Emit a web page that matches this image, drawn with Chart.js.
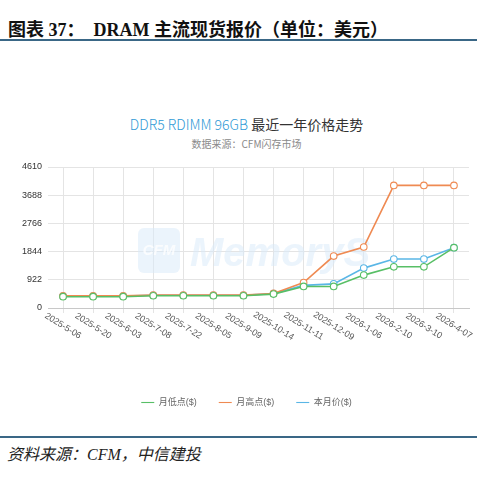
<!DOCTYPE html>
<html>
<head>
<meta charset="utf-8">
<script src="https://cdn.jsdelivr.net/npm/chart.js@4/dist/chart.umd.min.js"></script>
<style>
  body { margin: 0; width: 477px; height: 477px; background: #fff; position: relative; overflow: hidden; }
  .head { position: absolute; left: 8px; top: 15px; font: bold 18px "Liberation Serif", "Noto Sans CJK SC", serif; color: #111; white-space: nowrap; }
  .rule { position: absolute; left: 0; width: 477px; height: 2px; background: #3a6786; }
  .title { position: absolute; left: 0; width: 493px; text-align: center; white-space: nowrap; }
  .t1 { top: 114px; font: 14px "Noto Sans CJK SC", sans-serif; color: #333; }
  .t1 span { color: #2f9ad6; font-weight: 300; }
  .t2 { top: 136px; font: 10px "Noto Sans CJK SC", sans-serif; color: #8a8a8a; }
  .foot { position: absolute; left: 7px; top: 441px; font: italic 16px "Liberation Serif", "Noto Sans CJK SC", serif; color: #222; white-space: nowrap; }
  #wrap { position: absolute; left: 0; top: 150px; width: 477px; height: 270px; }
</style>
</head>
<body>
<div class="head">图表 37：&nbsp; DRAM 主流现货报价（单位：美元）</div>
<div class="rule" style="top:39px"></div>
<div class="title t1"><span>DDR5 RDIMM 96GB</span> 最近一年价格走势</div>
<div class="title t2">数据来源：CFM闪存市场</div>
<div id="wrap"><canvas id="myChart"></canvas></div>
<div class="rule" style="top:436px"></div>
<div class="foot">资料来源：CFM，中信建投</div>

<script>
const dates = ['2025-5-06', '2025-5-20', '2025-6-03', '2025-7-08', '2025-7-22', '2025-8-05', '2025-9-09',
  '2025-10-14', '2025-11-11', '2025-12-09', '2026-1-06', '2026-2-10', '2026-3-10', '2026-4-07'];
const lowPrice = [370, 370, 370, 400, 400, 400, 400, 455, 705, 705, 1075, 1347, 1347, 1972];
const highPrice = [395, 395, 395, 420, 420, 420, 420, 475, 832, 1698, 1994, 4009, 4009, 4009];
const curPrice = [390, 390, 390, 417, 417, 417, 417, 470, 740, 790, 1304, 1600, 1600, 1972];
const yTicks = [0, 922, 1844, 2766, 3688, 4610];

const ctx = document.getElementById('myChart');

// x labels slant down to the right, chart.js can't do that itself
const slantLabels = {
  id: 'slantLabels',
  afterDraw(chart) {
    const sc = chart.scales.x;
    const c = chart.ctx;
    c.save();
    c.font = '9px Arial';
    c.fillStyle = '#555';
    c.textAlign = 'center';
    c.textBaseline = 'middle';
    dates.forEach((d, i) => {
      c.save();
      c.translate(sc.getPixelForValue(i), sc.top + 18);
      c.rotate(32 * Math.PI / 180);
      c.fillText(d, 0, 0);
      c.restore();
    });
    c.restore();
  }
};

// legend sits a bit right of canvas centre in the original
const legendShift = {
  id: 'legendShift',
  afterLayout(chart) {
    chart.legend.left += 12;
    chart.legend.right += 12;
  }
};

// faint logo behind the lines
const watermark = {
  id: 'watermark',
  beforeDatasetsDraw(chart) {
    const a = chart.chartArea;
    const c = chart.ctx;
    c.save();
    c.fillStyle = 'rgba(215,234,250,0.5)';
    const x = a.left + 90, y = a.top + 61;
    c.beginPath();
    c.roundRect(x, y, 42, 45, 6);
    c.fill();
    c.fillStyle = 'rgba(255,255,255,0.8)';
    c.font = 'bold italic 15px Arial';
    c.textAlign = 'center';
    c.textBaseline = 'middle';
    c.fillText('CFM', x + 21, y + 23);
    c.fillStyle = 'rgba(215,234,250,0.5)';
    c.font = 'bold italic 40px Arial';
    c.textAlign = 'left';
    c.textBaseline = 'alphabetic';
    c.fillText('MemoryS', x + 52, y + 38);
    c.restore();
  }
};

function series(label, data, color) {
  return {
    label: label,
    data: data,
    borderColor: color,
    backgroundColor: color,
    borderWidth: 1.6,
    pointRadius: 3.3,
    pointBackgroundColor: '#fff',
    pointBorderColor: color,
    pointBorderWidth: 1.1,
    tension: 0
  };
}

const chart = new Chart(ctx, {
  type: 'line',
  data: {
    labels: dates,
    datasets: [
      series('月低点($)', lowPrice, '#58bf66'),
      series('月高点($)', highPrice, '#ef8a52'),
      series('本月价($)', curPrice, '#5ab6e6')
    ]
  },
  options: {
    responsive: true,
    maintainAspectRatio: false,
    animation: false,
    layout: { padding: { top: 17, right: 8, left: 0, bottom: 3 } },
    plugins: {
      legend: {
        position: 'bottom',
        labels: {
          usePointStyle: true,
          pointStyle: 'line',
          pointStyleWidth: 13,
          padding: 22,
          color: '#666',
          font: { size: 9, family: 'Arial, "Noto Sans CJK SC"' }
        }
      },
      tooltip: { enabled: false }
    },
    scales: {
      x: {
        offset: true,
        grid: { offset: false, color: '#e4e4e4', tickLength: 5 },
        border: { color: '#c8c8c8' },
        ticks: { display: false },
        afterFit(scale) { scale.height = 68; }
      },
      y: {
        min: 0,
        max: yTicks[yTicks.length - 1],
        afterBuildTicks(scale) { scale.ticks = yTicks.map(v => ({ value: v })); },
        grid: { color: '#e4e4e4', drawTicks: false },
        border: { display: false },
        ticks: {
          padding: 6,
          color: '#333',
          font: { size: 9, family: 'Arial' },
          callback: v => String(v)
        },
        afterFit(scale) { scale.width = 48; }
      }
    }
  },
  plugins: [slantLabels, legendShift, watermark]
});
</script>
</body>
</html>
